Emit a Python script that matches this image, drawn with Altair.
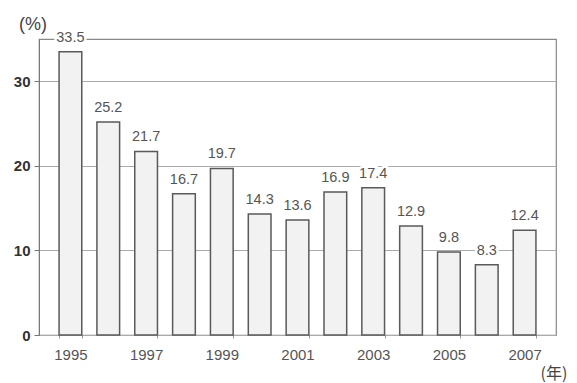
import altair as alt
import pandas as pd

years = [1995, 1996, 1997, 1998, 1999, 2000, 2001, 2002, 2003, 2004, 2005, 2006, 2007]
values = [33.5, 25.2, 21.7, 16.7, 19.7, 14.3, 13.6, 16.9, 17.4, 12.9, 9.8, 8.3, 12.4]
label_years = [1995, 1997, 1999, 2001, 2003, 2005, 2007]
y_ticks = [0, 10, 20, 30]

df = pd.DataFrame({"year": years, "value": values})
df["label"] = [f"{v:.1f}" for v in values]

FONT = "Liberation Sans"

x = alt.X("year:O",
          scale=alt.Scale(paddingInner=0.4, paddingOuter=0.53),
          axis=alt.Axis(values=label_years, labelAngle=0, title=None,
                        labelFont=FONT, labelFontSize=15, labelColor="#555555",
                        labelPadding=9, ticks=True, tickBand="extent", tickSize=3,
                        tickColor="#999999", domain=False))
y = alt.Y("value:Q",
          scale=alt.Scale(domain=[0, 35], nice=False),
          axis=alt.Axis(values=y_ticks, title=None, labelFont=FONT, labelFontSize=15,
                        labelFontWeight="bold", labelColor="#333333",
                        tickColor="#777777", tickSize=5, domainColor="#777777",
                        gridColor="#aaaaaa", gridWidth=1.2, labelPadding=4))

base = alt.Chart(df)

bars = base.mark_bar(fill="#f2f2f2", stroke="#5a5a5a", strokeWidth=1.5).encode(x=x, y=y)

halo = base.mark_text(baseline="bottom", dy=-7, font=FONT, fontSize=14.5,
                      stroke="white", strokeWidth=5, color="white").encode(
    x=alt.X("year:O"), y=alt.Y("value:Q"), text="label:N")
labels = base.mark_text(baseline="bottom", dy=-7, font=FONT, fontSize=14.5,
                        color="#555555").encode(
    x=alt.X("year:O"), y=alt.Y("value:Q"), text="label:N")

unit_pct = alt.Chart(pd.DataFrame({"t": ["(%)"]})).mark_text(
    font=FONT, fontSize=18, color="#444444", align="center", baseline="middle").encode(
    x=alt.value(-6), y=alt.value(-14), text="t:N")
unit_year = alt.Chart(pd.DataFrame({"t": ["(年)"]})).mark_text(
    font="Noto Sans CJK JP", fontSize=16, color="#444444", align="center", baseline="middle").encode(
    x=alt.value(515), y=alt.value(335), text="t:N")

chart = alt.layer(bars, halo, labels, unit_pct, unit_year).properties(
    width=517, height=296,
    autosize=alt.AutoSizeParams(type="none"),
    padding={"left": 39, "top": 39, "right": 21, "bottom": 48},
    background="white",
).configure_view(stroke="#888888", strokeWidth=1.2)

chart.save("out.html", embed_options={"renderer": "svg", "actions": False})
